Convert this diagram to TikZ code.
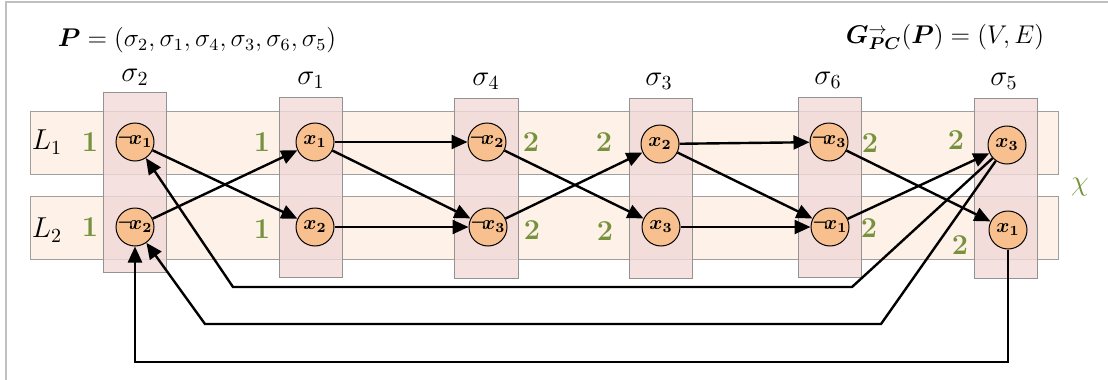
\documentclass[tikz,border=0pt]{standalone}
\usepackage{graphicx}
\usepackage{amsmath,amssymb,bm}
\usetikzlibrary{arrows.meta,positioning,calc}

\definecolor{litfill}{HTML}{F8C08E}
\definecolor{rowfill}{HTML}{FDF1E8}
\definecolor{colfill}{HTML}{F1D9D8}
\definecolor{wgreen}{HTML}{76923C}
\definecolor{framegray}{HTML}{C0C0C0}

\newcommand{\headline}[1]{\scalebox{1.067}{#1}}

\begin{document}
\begin{tikzpicture}[
  x=0.5pt, y=-0.5pt,
  font=\Large,
  head/.style={font=\large},
  lit/.style={circle, draw, line width=0.5pt, fill=litfill, minimum size=19pt, inner sep=0pt, font=\normalsize\boldmath},
  rowband/.style={draw=gray!75, line width=0.5pt, fill=rowfill},
  colband/.style={draw=gray!85, line width=0.5pt, fill=colfill, fill opacity=0.8},
  wt/.style={text=wgreen, font=\Large\bfseries},
  arc/.style={line width=1.2pt, -{Triangle[length=8pt,width=7pt]}}
]
\useasboundingbox (0,0) rectangle (1108,380);

% ----- Frame (top and left only)
\draw[framegray, line width=0.8pt] (6,380) -- (6,2) -- (1108,2);

% ----- Headline
\node[head] at (197,40) (perm) {\headline{$\boldsymbol{P} = (\sigma_2, \sigma_1, \sigma_4, \sigma_3, \sigma_6, \sigma_5)$}};
\node[head] at (945,37) (graph) {\headline{$\boldsymbol{G}^{\to}_{\boldsymbol{PC}}(\boldsymbol{P}) = (V, E)$}};

% ----- Literal rows
\draw[rowband] (30,111) rectangle (1058,174);
\draw[rowband] (30,196) rectangle (1058,259);
\node at (47,142) (L1) {$L_1$};
\node at (47,230) (L2) {$L_2$};

% ----- Clause columns
\draw[colband] (103,92) rectangle (166,272);
\draw[colband] (279,97) rectangle (342,277);
\draw[colband] (454,98) rectangle (518,278);
\draw[colband] (629,98) rectangle (692,278);
\draw[colband] (798,97) rectangle (861,277);
\draw[colband] (974,98) rectangle (1037,278);

\node at (135,77) (sig2) {$\sigma_2$};
\node at (311,80) (sig1) {$\sigma_1$};
\node at (486,81) (sig4) {$\sigma_4$};
\node at (659,81) (sig3) {$\sigma_3$};
\node at (828,80) (sig6) {$\sigma_6$};
\node at (1004,81) (sig5) {$\sigma_5$};

% ----- Literals
\node[lit] at (135,142) (s2a) {$\neg\!x_1$};
\node[lit] at (135,227) (s2b) {$\neg\!x_2$};
\node[lit] at (315,142) (s1a) {$x_1$};
\node[lit] at (315,227) (s1b) {$x_2$};
\node[lit] at (487,142) (s4a) {$\neg\!x_2$};
\node[lit] at (488,227) (s4b) {$\neg\!x_3$};
\node[lit] at (660,144) (s3a) {$x_2$};
\node[lit] at (661,227) (s3b) {$x_3$};
\node[lit] at (829,142) (s6a) {$\neg\!x_3$};
\node[lit] at (830,227) (s6b) {$\neg\!x_1$};
\node[lit] at (1007,145) (s5a) {$x_3$};
\node[lit] at (1008,230) (s5b) {$x_1$};

% ----- Weights
\node[wt] at (90,142) (w2a) {1};
\node[wt] at (90,227) (w2b) {1};
\node[wt] at (262,142) (w1a) {1};
\node[wt] at (262,229) (w1b) {1};
\node[wt] at (531,142) (w4a) {2};
\node[wt] at (532,230) (w4b) {2};
\node[wt] at (604,142) (w3a) {2};
\node[wt] at (605,231) (w3b) {2};
\node[wt] at (870,143) (w6a) {2};
\node[wt] at (869,228) (w6b) {2};
\node[wt] at (956,140) (w5a) {2};
\node[wt] at (960,245) (w5b) {2};

\node[text=wgreen] at (1080,187) (chi) {$\chi$};

% ----- Forward edges
\draw[arc] (s2a) -- (s1b);
\draw[arc] (s2b) -- (s1a);
\draw[arc] (s1a) -- (s4a);
\draw[arc] (s1a) -- (s4b);
\draw[arc] (s1b) -- (s4b);
\draw[arc] (s4a) -- (s3b);
\draw[arc] (s4b) -- (s3a);
\draw[arc] (s3a) -- (s6a);
\draw[arc] (s3a) -- (s6b);
\draw[arc] (s3b) -- (s6b);
\draw[arc] (s6a) -- (s5b);
\draw[arc] (s6b) -- (s5a);

% ----- Back edges to the first column
\coordinate (back1r) at (852,287);
\coordinate (back1l) at (233,287);
\coordinate (back2r) at (881,324);
\coordinate (back2l) at (205,324);
\coordinate (back3)  at (135,362);

\draw[arc] (s5a) -- (back1r) -- (back1l) -- (s2a);
\draw[arc] (s5a) -- (back2r) -- (back2l) -- (s2b);
\draw[arc] (s5b) |- (back3) -- (s2b);

\end{tikzpicture}
\end{document}
